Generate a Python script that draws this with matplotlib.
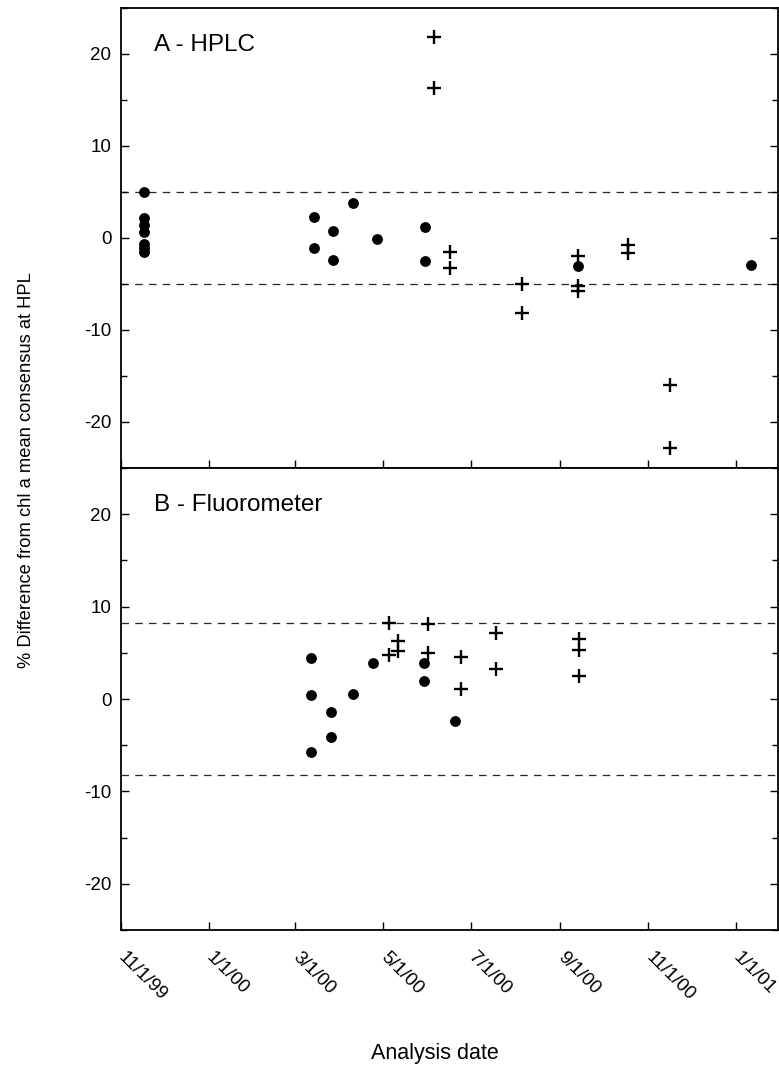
import datetime as dt
import matplotlib
matplotlib.use("Agg")
import matplotlib.pyplot as plt
import matplotlib.dates as mdates
from matplotlib.ticker import MultipleLocator, FixedLocator

plt.rcParams['font.family'] = ['Liberation Sans', 'DejaVu Sans']
plt.rcParams['axes.unicode_minus'] = False

# tick dates shown on the x axis
tick_labels = ["11/1/99", "1/1/00", "3/1/00", "5/1/00", "7/1/00", "9/1/00", "11/1/00", "1/1/01"]

# A - HPLC
hplc_dot_dates = ["11/17/99"] * 7 + ["3/14/00", "3/14/00", "3/27/00", "3/27/00", "4/10/00",
                                     "4/27/00", "5/30/00", "5/30/00", "9/13/00", "1/11/01"]
hplc_dot_vals = [5.0, 2.2, 1.4, 0.6, -0.7, -1.1, -1.5, 2.25, -1.1, 0.8, -2.35, 3.8,
                 -0.1, 1.2, -2.45, -3.0, -2.9]
hplc_plus_dates = ["6/5/00", "6/5/00", "6/16/00", "6/16/00", "8/5/00", "8/5/00",
                   "9/13/00", "9/13/00", "9/13/00", "10/18/00", "10/18/00", "11/16/00", "11/16/00"]
hplc_plus_vals = [21.8, 16.3, -1.5, -3.3, -5.0, -8.2, -2.0, -5.25, -5.8, -0.8, -1.65, -16.0, -22.8]
hplc_limits = [5, -5]

# B - Fluorometer
fluor_dot_dates = ["3/12/00", "3/12/00", "3/12/00", "3/26/00", "3/26/00", "4/10/00",
                   "4/24/00", "5/29/00", "5/29/00", "6/20/00"]
fluor_dot_vals = [4.45, 0.4, -5.75, -1.45, -4.1, 0.55, 3.85, 3.9, 2.0, -2.35]
fluor_plus_dates = ["5/5/00", "5/5/00", "5/11/00", "5/11/00", "6/1/00", "6/1/00",
                    "6/24/00", "6/24/00", "7/18/00", "7/18/00", "9/14/00", "9/14/00", "9/14/00"]
fluor_plus_vals = [8.25, 4.8, 6.25, 5.2, 8.15, 5.0, 4.55, 1.1, 7.1, 3.25, 6.45, 5.35, 2.5]
fluor_limits = [8.2, -8.2]


def to_dates(strs):
    return [dt.datetime.strptime(s, "%m/%d/%y") for s in strs]


fig = plt.figure(figsize=(7.79, 10.8), dpi=100)
ax_a = fig.add_axes([121 / 779, 1 - 468 / 1080, 657 / 779, 460 / 1080])
ax_b = fig.add_axes([121 / 779, 1 - 930 / 1080, 657 / 779, 462 / 1080], sharex=ax_a)

panels = [
    (ax_a, "A - HPLC", hplc_dot_dates, hplc_dot_vals, hplc_plus_dates, hplc_plus_vals, hplc_limits),
    (ax_b, "B - Fluorometer", fluor_dot_dates, fluor_dot_vals, fluor_plus_dates, fluor_plus_vals, fluor_limits),
]

for ax, title, dd, dv, pd_, pv, lims in panels:
    for lim in lims:
        ax.axhline(lim, color="0.15", lw=0.9, dashes=(6, 5), zorder=1)
    ax.plot(to_dates(dd), dv, "o", color="black", ms=7.8, mew=0, zorder=3)
    ax.plot(to_dates(pd_), pv, "+", color="black", ms=9.5, mew=1.7, zorder=3)
    ax.set_ylim(-25, 25)
    ax.yaxis.set_major_locator(MultipleLocator(10))
    ax.yaxis.set_minor_locator(MultipleLocator(5))
    ax.tick_params(axis="y", which="both", direction="in", left=True, right=True,
                   labelsize=13.5, length=6, width=1, pad=7)
    ax.tick_params(axis="y", which="minor", length=4)
    ax.tick_params(axis="x", which="both", direction="in", top=False, length=6, width=1)
    ax.text(0.05, 0.92, title, transform=ax.transAxes, fontsize=17.5, va="center", ha="left")
    for sp in ax.spines.values():
        sp.set_linewidth(1.3)

ticks = to_dates(tick_labels)
ax_b.xaxis.set_major_locator(FixedLocator(mdates.date2num(ticks)))
ax_b.set_xlim(mdates.date2num(dt.datetime(1999, 11, 1)), mdates.date2num(dt.datetime(2001, 1, 30)))
ax_b.set_xticklabels(tick_labels)
plt.setp(ax_a.get_xticklabels(), visible=False)
for lbl in ax_b.get_xticklabels():
    lbl.set_rotation(-45)
    lbl.set_rotation_mode("anchor")
    lbl.set_ha("left")
    lbl.set_va("center")
    lbl.set_fontsize(13.5)
ax_b.tick_params(axis="x", pad=18)

fig.text(0.034, 1 - 470 / 1080, "% Difference from chl a mean consensus at HPL",
         rotation=90, ha="center", va="center", fontsize=13.2)
fig.text(435 / 779, 1 - 1054 / 1080, "Analysis date", ha="center", va="center", fontsize=15.5)

fig.savefig("out.png", dpi=100)
